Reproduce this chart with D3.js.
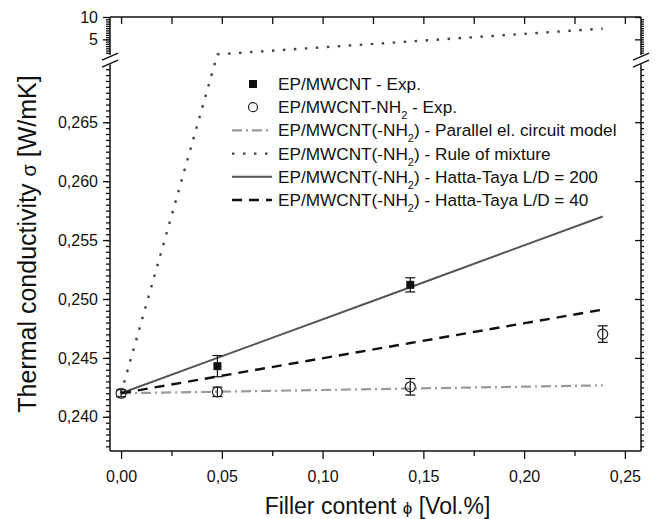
<!DOCTYPE html>
<html>
<head>
<meta charset="utf-8">
<script src="https://cdn.jsdelivr.net/npm/d3@7"></script>
<style>
  body { margin: 0; background: #fff; }
  svg { font-family: "Liberation Sans", Arial, sans-serif; }
  .tick text { font-size: 16px; fill: #111; }
</style>
</head>
<body>
<div id="chart"></div>
<script>
'use strict';

// data (phi in vol.%, sigma in W/mK)
var phi = [0, 0.0478, 0.1435, 0.239];
var parallelModel = [0.2420, 0.24213, 0.2424, 0.24267];
var ruleOfMixture = [0.2420, 1.65, 4.53, 7.4];
var hattaTaya200 = [0.2420, 0.2450, 0.2510, 0.2570];
var hattaTaya40 = [0.2420, 0.24342, 0.24626, 0.2491];

var expPhi = [0.0478, 0.1435];
var expSigma = [0.2443, 0.2512];
var expErr = [0.0009, 0.0006];

var expNH2Phi = [0, 0.0478, 0.1435, 0.239];
var expNH2Sigma = [0.2420, 0.24212, 0.24255, 0.24702];
var expNH2Err = [0.0003, 0.0004, 0.0007, 0.0007];

var xTicks = [0, 0.05, 0.10, 0.15, 0.20, 0.25];
var xMinor = [0.025, 0.075, 0.125, 0.175, 0.225];
var yTicksLow = [0.240, 0.245, 0.250, 0.255, 0.260, 0.265];
var yTicksHigh = [5, 10];

var width = 656, height = 519;
var plotLeft = 110, plotRight = 641, plotTop = 17, plotBottom = 451;
var breakHigh = 55, breakLow = 63.3;

var locale = d3.formatLocale({decimal: ',', thousands: '.', grouping: [3], currency: ['', '']});

var x = d3.scaleLinear().domain([-0.0055, 0.258]).range([plotLeft, plotRight]);
var yLow = d3.scaleLinear().domain([0.2371, 0.27]).range([plotBottom, breakLow]);
var yHigh = d3.scaleLinear().domain([1.5, 10]).range([breakHigh, plotTop]);
function y(v) { return v <= 0.27 ? yLow(v) : yHigh(v); }

var svg = d3.select('#chart').append('svg')
    .attr('width', width)
    .attr('height', height);

// axes
function cleanAxis(g) {
  g.select('.domain').remove();
  g.selectAll('.tick line').attr('stroke', '#111').attr('stroke-width', 1.3);
}

svg.append('g')
  .attr('transform', 'translate(0,' + plotBottom + ')')
  .call(d3.axisBottom(x).tickValues(xTicks).tickSize(8).tickPadding(12).tickFormat(locale.format('.2f')))
  .call(cleanAxis);
svg.append('g')
  .attr('transform', 'translate(0,' + plotBottom + ')')
  .call(d3.axisBottom(x).tickValues(xMinor).tickSize(5).tickFormat(''))
  .call(cleanAxis);
svg.append('g')
  .attr('transform', 'translate(0,' + plotTop + ')')
  .call(d3.axisBottom(x).tickValues(xTicks.concat(xMinor)).tickSize(7).tickFormat(''))
  .call(cleanAxis);

var minorLow = d3.range(0.2375, 0.26999, 0.0005);
var minorHigh = d3.range(2, 10, 0.5);

svg.append('g')
  .attr('transform', 'translate(' + plotLeft + ',0)')
  .call(d3.axisLeft(yLow).tickValues(yTicksLow).tickSize(7).tickPadding(5).tickFormat(locale.format('.3f')))
  .call(cleanAxis);
svg.append('g')
  .attr('transform', 'translate(' + plotLeft + ',0)')
  .call(d3.axisLeft(yHigh).tickValues(yTicksHigh).tickSize(7).tickPadding(5).tickFormat(d3.format('d')))
  .call(cleanAxis);
svg.append('g')
  .attr('transform', 'translate(' + plotLeft + ',0)')
  .call(d3.axisLeft(yLow).tickValues(minorLow).tickSize(4).tickFormat(''))
  .call(cleanAxis);
svg.append('g')
  .attr('transform', 'translate(' + plotLeft + ',0)')
  .call(d3.axisLeft(yHigh).tickValues(minorHigh).tickSize(4).tickFormat(''))
  .call(cleanAxis);

svg.append('g')
  .attr('transform', 'translate(' + plotRight + ',0)')
  .call(d3.axisLeft(yLow).tickValues(yTicksLow).tickSize(6).tickFormat(''))
  .call(cleanAxis);
svg.append('g')
  .attr('transform', 'translate(' + plotRight + ',0)')
  .call(d3.axisLeft(yHigh).tickValues(yTicksHigh).tickSize(6).tickFormat(''))
  .call(cleanAxis);
svg.append('g')
  .attr('transform', 'translate(' + plotRight + ',0)')
  .call(d3.axisRight(yLow).tickValues(minorLow).tickSize(3).tickFormat(''))
  .call(cleanAxis);
svg.append('g')
  .attr('transform', 'translate(' + plotRight + ',0)')
  .call(d3.axisRight(yHigh).tickValues(minorHigh).tickSize(3).tickFormat(''))
  .call(cleanAxis);

// frame with break
var frame = svg.append('g').attr('stroke', '#111').attr('stroke-width', 1.5).attr('fill', 'none');
frame.append('line').attr('x1', plotLeft).attr('x2', plotRight).attr('y1', plotTop).attr('y2', plotTop);
frame.append('line').attr('x1', plotLeft).attr('x2', plotRight).attr('y1', plotBottom).attr('y2', plotBottom);
[plotLeft, plotRight].forEach(function (ax) {
  frame.append('line').attr('x1', ax).attr('x2', ax).attr('y1', plotTop).attr('y2', breakHigh);
  frame.append('line').attr('x1', ax).attr('x2', ax).attr('y1', breakLow + 1).attr('y2', plotBottom);
  var m = (breakHigh + breakLow) / 2;
  frame.append('path')
    .attr('d', 'M' + (ax - 8) + ',' + (m + 1) + 'L' + (ax + 8) + ',' + (m - 6) +
               'L' + (ax + 8) + ',' + (m + 1) + 'L' + (ax - 8) + ',' + (m + 8) + 'Z')
    .attr('fill', '#fff').attr('stroke', 'none');
  frame.append('line').attr('x1', ax - 8).attr('x2', ax + 8).attr('y1', m + 1).attr('y2', m - 6);
  frame.append('line').attr('x1', ax - 8).attr('x2', ax + 8).attr('y1', m + 8).attr('y2', m + 1);
});

// model lines
var line = d3.line()
    .x(function (d) { return x(d[0]); })
    .y(function (d) { return y(d[1]); });

var styles = {
  parallel: {stroke: '#9a9a9a', width: 2.2, dash: '10,4,2,4'},
  rule: {stroke: '#444', width: 2.4, dash: '2.5,8.5'},
  ht200: {stroke: '#555', width: 2, dash: null},
  ht40: {stroke: '#111', width: 2.4, dash: '10,7'}
};

function drawModel(values, st) {
  svg.append('path')
    .attr('d', line(d3.zip(phi, values)))
    .attr('fill', 'none')
    .attr('stroke', st.stroke)
    .attr('stroke-width', st.width)
    .attr('stroke-dasharray', st.dash);
}
drawModel(parallelModel, styles.parallel);
drawModel(ruleOfMixture, styles.rule);
drawModel(hattaTaya200, styles.ht200);
drawModel(hattaTaya40, styles.ht40);

// error bars + markers
function errorBars(ps, ss, es) {
  var g = svg.append('g').attr('stroke', '#111').attr('stroke-width', 1.2);
  ps.forEach(function (p, i) {
    var cx = x(p), y1 = yLow(ss[i] - es[i]), y2 = yLow(ss[i] + es[i]);
    g.append('line').attr('x1', cx).attr('x2', cx).attr('y1', y1).attr('y2', y2);
    g.append('line').attr('x1', cx - 5).attr('x2', cx + 5).attr('y1', y1).attr('y2', y1);
    g.append('line').attr('x1', cx - 5).attr('x2', cx + 5).attr('y1', y2).attr('y2', y2);
  });
}
errorBars(expNH2Phi, expNH2Sigma, expNH2Err);
errorBars(expPhi, expSigma, expErr);

svg.append('g').selectAll('circle')
  .data(d3.zip(expNH2Phi, expNH2Sigma))
  .enter().append('circle')
  .attr('cx', function (d) { return x(d[0]); })
  .attr('cy', function (d) { return yLow(d[1]); })
  .attr('r', 5)
  .attr('fill', 'none')
  .attr('stroke', '#222')
  .attr('stroke-width', 1.2);

svg.append('g').selectAll('rect')
  .data(d3.zip(expPhi, expSigma))
  .enter().append('rect')
  .attr('x', function (d) { return x(d[0]) - 4; })
  .attr('y', function (d) { return yLow(d[1]) - 4; })
  .attr('width', 8)
  .attr('height', 8)
  .attr('fill', '#111');

// legend
var legendItems = [
  {type: 'square', text: ['EP/MWCNT - Exp.']},
  {type: 'circle', text: ['EP/MWCNT-NH', '2', ' - Exp.']},
  {type: 'parallel', text: ['EP/MWCNT(-NH', '2', ') - Parallel el. circuit model']},
  {type: 'rule', text: ['EP/MWCNT(-NH', '2', ') - Rule of mixture']},
  {type: 'ht200', text: ['EP/MWCNT(-NH', '2', ') - Hatta-Taya L/D = 200']},
  {type: 'ht40', text: ['EP/MWCNT(-NH', '2', ') - Hatta-Taya L/D = 40']}
];

var legend = svg.append('g').attr('transform', 'translate(232,84)');
legendItems.forEach(function (item, i) {
  var g = legend.append('g').attr('transform', 'translate(0,' + (i * 23.2) + ')');
  if (item.type === 'square') {
    g.append('rect').attr('x', 17).attr('y', -4).attr('width', 8).attr('height', 8).attr('fill', '#111');
  } else if (item.type === 'circle') {
    g.append('circle').attr('cx', 21).attr('cy', 0).attr('r', 4.5)
      .attr('fill', 'none').attr('stroke', '#222').attr('stroke-width', 1.2);
  } else {
    var st = styles[item.type];
    g.append('line').attr('x1', 0).attr('x2', 40).attr('y1', 0).attr('y2', 0)
      .attr('stroke', st.stroke).attr('stroke-width', st.width).attr('stroke-dasharray', st.dash);
  }
  var t = g.append('text').attr('x', 46).attr('y', 6).attr('font-size', 17.2).attr('fill', '#111');
  t.append('tspan').text(item.text[0]);
  if (item.text.length > 1) {
    t.append('tspan').attr('font-size', 11).attr('dy', 6).text(item.text[1]);
    t.append('tspan').attr('dy', -6).text(item.text[2]);
  }
});

// axis titles
var xt = svg.append('text')
  .attr('x', (plotLeft + plotRight) / 2 + 2)
  .attr('y', 514)
  .attr('text-anchor', 'middle')
  .attr('font-size', 23)
  .attr('fill', '#111');
xt.append('tspan').text('Filler content ');
xt.append('tspan').attr('font-size', 17).text('\u03d5');
xt.append('tspan').text(' [Vol.%]');

var yt = svg.append('text')
  .attr('transform', 'translate(36,244) rotate(-90)')
  .attr('text-anchor', 'middle')
  .attr('font-size', 25)
  .attr('fill', '#111');
yt.append('tspan').text('Thermal conductivity ');
yt.append('tspan').attr('font-size', 20).text('\u03c3');
yt.append('tspan').text(' [W/mK]');
</script>
</body>
</html>
